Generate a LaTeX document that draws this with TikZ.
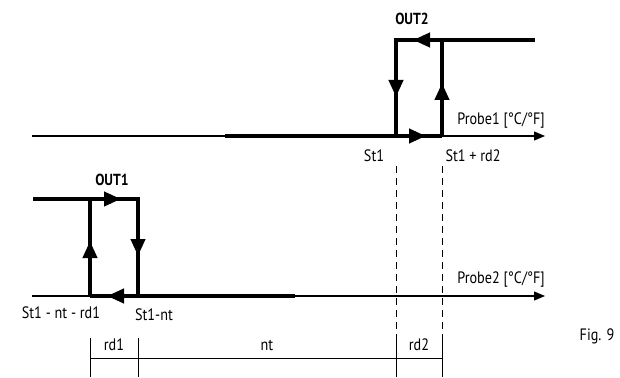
\documentclass[tikz,border=0pt]{standalone}
\usepackage{fontspec}
\setmainfont{PT Sans}[FakeStretch=0.86]
\usetikzlibrary{arrows.meta}
\begin{document}
\begin{tikzpicture}[x=1pt,y=-1pt,
  thin line/.style={line width=1.1pt},
  thick line/.style={line width=4pt},
  axis/.style={line width=1.1pt,-{Triangle[length=11pt,width=9pt]}},
  flowtip/.style={line width=4pt,-{Triangle[length=17pt,width=14pt]}},
  guide/.style={line width=1pt,dash pattern=on 7pt off 5pt},
  tick/.style={line width=1pt},
  lbl/.style={font=\fontsize{16.5}{18}\selectfont,inner sep=0pt},
  outlbl/.style={font=\fontsize{16}{18}\selectfont\bfseries,inner sep=0pt}]
\useasboundingbox (0,0) rectangle (620,377);
% ---------- top: OUT2 ----------
\coordinate (a1s) at (32,136);
\coordinate (a1e) at (545,136);
\coordinate (h2a) at (225,136);
\coordinate (h2b) at (396,136);
\coordinate (h2c) at (442,136);
\coordinate (h2d) at (396,40);
\coordinate (h2e) at (442,40);
\coordinate (h2f) at (535,40);
\draw[axis] (a1s) -- (a1e);
\draw[thick line] (h2a) -- (h2c);
\draw[thick line] (h2b) -- (h2d) -- (h2f);
\draw[thick line] (h2c) -- (h2e);
\coordinate (t2a) at (396,80);  \coordinate (t2b) at (396,97);
\coordinate (t2c) at (442,100); \coordinate (t2d) at (442,83);
\coordinate (t2e) at (430,40);  \coordinate (t2f) at (413,40);
\coordinate (t2g) at (409,136); \coordinate (t2h) at (426,136);
\draw[flowtip] (t2a) -- (t2b);
\draw[flowtip] (t2c) -- (t2d);
\draw[flowtip] (t2e) -- (t2f);
\draw[flowtip] (t2g) -- (t2h);
\node[outlbl] (out2) at (412,19) {OUT2};
\node[lbl] (p1) at (501,121) {Probe1 [°C/°F]};
\node[lbl] (st1) at (374,156) {St1};
\node[lbl] (st1rd2) at (473,156) {St1 + rd2};
% ---------- bottom: OUT1 ----------
\coordinate (a2s) at (32,296);
\coordinate (a2e) at (545,296);
\coordinate (h1a) at (90,296);
\coordinate (h1b) at (138,296);
\coordinate (h1c) at (295,296);
\coordinate (h1d) at (90,199);
\coordinate (h1e) at (138,199);
\coordinate (h1f) at (33,199);
\draw[axis] (a2s) -- (a2e);
\draw[thick line] (h1a) -- (h1c);
\draw[thick line] (h1f) -- (h1e) -- (h1b);
\draw[thick line] (h1a) -- (h1d);
\coordinate (t1a) at (90,258);  \coordinate (t1b) at (90,241);
\coordinate (t1c) at (138,239); \coordinate (t1d) at (138,256);
\coordinate (t1e) at (104,199); \coordinate (t1f) at (121,199);
\coordinate (t1g) at (124,296); \coordinate (t1h) at (107,296);
\draw[flowtip] (t1a) -- (t1b);
\draw[flowtip] (t1c) -- (t1d);
\draw[flowtip] (t1e) -- (t1f);
\draw[flowtip] (t1g) -- (t1h);
\node[outlbl] (out1) at (112,180) {OUT1};
\node[lbl] (p2) at (501,280) {Probe2 [°C/°F]};
\node[lbl] (lo) at (61,313) {St1 - nt - rd1};
\node[lbl] (st1nt) at (154,315) {St1-nt};
% ---------- guides ----------
\coordinate (g1t) at (396,166); \coordinate (g1b) at (396,340);
\coordinate (g2t) at (442,166); \coordinate (g2b) at (442,340);
\draw[guide] (g1t) -- (g1b);
\draw[guide] (g2t) -- (g2b);
% ---------- dimensions ----------
\coordinate (k1t) at (90,338);  \coordinate (k1b) at (90,377);
\coordinate (k2t) at (138,338); \coordinate (k2b) at (138,377);
\coordinate (k3t) at (396,338); \coordinate (k3b) at (396,377);
\coordinate (k4t) at (442,338); \coordinate (k4b) at (442,377);
\coordinate (dl) at (90,358);   \coordinate (dr) at (442,358);
\draw[tick] (k1t) -- (k1b);
\draw[tick] (k2t) -- (k2b);
\draw[tick] (k3t) -- (k3b);
\draw[tick] (k4t) -- (k4b);
\draw[tick] (dl) -- (dr);
\node[lbl] (rd1) at (114,345) {rd1};
\node[lbl] (nt) at (267,345) {nt};
\node[lbl] (rd2) at (419,345) {rd2};
\node[lbl] (fig) at (597,336) {Fig. 9};
\end{tikzpicture}
\end{document}
